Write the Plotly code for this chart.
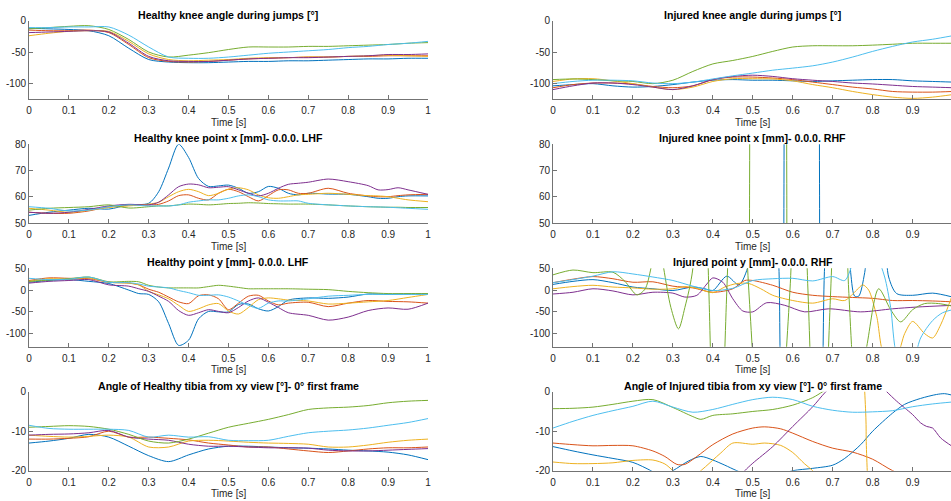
import plotly.graph_objects as go

COLORS = ['#0072BD', '#D95319', '#EDB120', '#7E2F8E', '#77AC30', '#4DBEEE']
FONT = 'Liberation Sans, Arial, Helvetica, sans-serif'

# ---------------- time grids ----------------
t20 = [0, 0.05, 0.1, 0.15, 0.2, 0.25, 0.3, 0.35, 0.4, 0.45, 0.5, 0.55, 0.6, 0.65, 0.7,
       0.75, 0.8, 0.85, 0.9, 0.95, 1.0]

# ---------------- 1: Healthy knee angle ----------------
hk_ang_blue = [-12, -13, -14, -16, -24, -44, -62, -66, -67, -67, -66, -65, -65, -64, -64, -63, -62, -61, -61, -60, -60]
hk_ang_orange = [-15, -16, -16, -15, -19, -38, -59, -65, -66, -65, -63, -61, -60, -59, -58, -58, -57, -57, -56, -56, -56]
hk_ang_yellow = [-24, -20, -17, -16, -17, -33, -53, -62, -64, -63, -62, -60, -59, -59, -58, -58, -57, -56, -55, -56, -57]
hk_ang_purple = [-19, -18, -17, -16, -18, -36, -57, -64, -65, -65, -63, -61, -60, -59, -59, -58, -57, -56, -54, -54, -53]
hk_ang_green = [-13, -11, -9, -8, -14, -30, -50, -58, -55, -51, -46, -42, -42, -42, -41, -41, -40, -39, -38, -36, -35]
hk_ang_lblue = [-11, -11, -10, -10, -10, -23, -42, -58, -60, -60, -58, -55, -52, -50, -48, -46, -43, -41, -38, -36, -33]

# ---------------- 2: Injured knee angle ----------------
ik_ang_blue = [-104, -102, -100.5, -104, -106, -105, -102, -98, -95, -94, -95, -95, -96, -97, -96, -95, -94, -94, -96, -97, -98]
ik_ang_orange = [-107, -102, -99.5, -99.5, -101, -105, -107, -104, -94, -90, -90, -91.5, -94, -98, -102, -106, -109, -113, -114, -114, -113]
ik_ang_yellow = [-97, -93, -92.6, -96, -100.5, -106, -110, -106, -97, -92.6, -92.6, -93, -96, -102, -107, -113, -118, -122, -124, -122, -118]
ik_ang_purple = [-110, -104, -99.5, -99.5, -102, -106, -110, -104, -94, -89, -87, -89, -92.6, -95, -97, -99.5, -101, -103, -105, -106, -107]
ik_ang_green = [-94, -93, -94, -96, -97, -100.5, -95, -81, -69, -63.5, -57, -49, -42, -40, -40, -40, -39, -37.6, -36, -36, -36]
ik_ang_lblue = [-100.5, -97, -95, -95, -96, -99.5, -100.5, -98, -93, -88, -83.6, -79, -75.7, -72, -66, -58, -49, -41, -34, -29.6, -24]

# ---------------- 3: Healthy knee point x ----------------
t_hkx = [0, 0.05, 0.1, 0.15, 0.2, 0.25, 0.3, 0.325, 0.35, 0.375, 0.4, 0.425, 0.45, 0.475, 0.5,
         0.525, 0.55, 0.575, 0.6, 0.625, 0.65, 0.675, 0.7, 0.75, 0.8, 0.85, 0.875, 0.9, 0.925, 0.95, 1.0]
hkx_blue = [53, 54.2, 55, 55.7, 55.4, 57, 57.6, 62, 71, 80, 75, 67, 64, 64.2, 64.5,
            63.3, 61.4, 62, 64, 63.3, 61.4, 60.8, 61.4, 61.1, 61, 60.1, 59.5, 59.5, 60.1, 60.4, 60.4]
hkx_orange = [54.2, 53.8, 53.8, 54.7, 56.3, 57, 57, 57.2, 58.5, 60.5, 60.8, 59.5, 58.9, 61.4, 62.9,
              62, 60.1, 58.5, 60.5, 62.7, 62.7, 61.4, 61.4, 63.3, 61.4, 60.4, 60.1, 60.1, 60.5, 60.8, 61]
hkx_yellow = [55.7, 55, 54.2, 55, 56, 56.6, 57.3, 58, 60.1, 62, 62.9, 62, 60.5, 61.4, 63,
              63.5, 62.7, 60.8, 59.7, 59.5, 60.1, 60.8, 61, 61.4, 61, 60.5, 60.4, 60.1, 59.5, 58.9, 58.2]
hkx_purple = [54.2, 53.8, 54.2, 55.3, 56.6, 57.2, 57, 58, 60.8, 63.9, 64.9, 64.6, 63.5, 63.7, 63.9,
              62.7, 61.4, 60.4, 61.4, 63.3, 64.8, 65.2, 65.6, 66.8, 65.8, 64.3, 62.7, 62.8, 63.5, 62.7, 61]
hkx_green = [55, 55.7, 56, 56.3, 57, 55.8, 56.3, 56.6, 56.6, 57, 57.3, 57.2, 57, 57.2, 57.5,
             57.6, 57.8, 57.7, 57.5, 57.4, 57.3, 57.3, 57.3, 57, 56.6, 56.3, 56.2, 56.1, 56.1, 56, 56]
hkx_lblue = [56.3, 55.7, 54.7, 55, 56.3, 57, 56.6, 56.6, 56.6, 57, 58, 58.5, 58.9, 58.9, 59.5,
             60.4, 60.8, 60.1, 58.9, 58.5, 58.5, 58.5, 57.6, 57, 56.6, 56.3, 56.2, 56.1, 55.9, 55.7, 55.3]

# ---------------- 4: Injured knee point x ----------------
ikx_blue_t = [0, 0.3, 0.5, 0.57, 0.578, 0.585, 0.62, 0.66, 0.667, 0.675, 0.8, 1.0]
ikx_blue = [20, 20, 20, -300, 65, 400, 500, 400, 65, -300, 20, 20]
ikx_orange_t = [0, 0.5, 1.0]
ikx_orange = [20, 20, 20]
ikx_yellow_t = [0, 0.5, 1.0]
ikx_yellow = [25, 25, 25]
ikx_purple_t = [0, 0.5, 1.0]
ikx_purple = [15, 15, 15]
ikx_green_t = [0, 0.2, 0.4, 0.485, 0.492, 0.5, 0.54, 0.578, 0.585, 0.592, 0.7, 0.85, 1.0]
ikx_green = [30, 30, 25, -300, 65, 400, 500, 400, 65, -300, 20, 25, 30]
ikx_lblue_t = [0, 0.5, 1.0]
ikx_lblue = [10, 10, 10]

# ---------------- 5: Healthy point y ----------------
t_hpy = [0, 0.05, 0.1, 0.15, 0.2, 0.25, 0.275, 0.3, 0.325, 0.35, 0.375, 0.4, 0.425, 0.45, 0.475,
         0.5, 0.525, 0.55, 0.575, 0.6, 0.625, 0.65, 0.7, 0.75, 0.8, 0.85, 0.9, 0.95, 1.0]
hpy_blue = [18, 22, 24, 20, 15, 0, -8, -10, -27, -77, -127, -115, -66, -49, -50,
            -50, -33, -32, -43, -48, -38, -23, -18, -19, -16, -9, -10, -9, -9]
hpy_orange = [22, 28, 27, 26, 18, 16, 12, 2, -5, -16, -27, -31, -13, -11, -20,
              -45, -30, -14, -12, -25, -34, -30, -28, -38, -30, -24, -26, -27, -30]
hpy_yellow = [20, 26, 25, 28, 18, 16, 12, -3, -11, -20, -35, -49, -43, -34, -31,
              -48, -55, -40, -22, -18, -20, -23, -25, -32, -30, -27, -24, -17, -10]
hpy_purple = [16, 20, 22, 24, 12, 9, 3, -3, -14, -26, -47, -58, -52, -45, -49,
              -52, -40, -25, -18, -28, -40, -52, -58, -69, -62, -47, -41, -44, -30]
hpy_green = [20, 23, 26, 30, 19, 20, 19, 11, 7, 5, 5, 5, 5, 8, 11,
             9, 6, 3, 3, 3, 3, 3, 2, 1, -3, -6, -8, -8, -8]
hpy_lblue = [27, 24, 25, 30, 18, 17, 14, 9, 7, 5, -1, -6, -12, -12, -11,
             -16, -25, -35, -42, -30, -25, -25, -20, -14, -12, -10, -10, -10, -10]

# ---------------- 6: Injured point y ----------------
ipy_blue_t = [0, 0.05, 0.1, 0.15, 0.2, 0.25, 0.3, 0.35, 0.38, 0.4, 0.435, 0.465, 0.49, 0.52, 0.55, 0.565,
              0.575, 0.6, 0.65, 0.67, 0.68, 0.7, 0.73, 0.745, 0.755, 0.765, 0.78, 0.8, 0.82, 0.84, 0.86,
              0.9, 0.95, 1.0]
ipy_blue = [13, 20, 24, 17, 7, 3, -1, 7, 3, -1, 32, 12, 60, 300, 300, 60,
            -300, -400, -400, -300, 60, 300, 300, 40, -14, -14, 40, 200, 200, 30, -8,
            -12, -7, -16]
ipy_orange_t = [0, 0.05, 0.1, 0.15, 0.2, 0.25, 0.3, 0.35, 0.4, 0.45, 0.48, 0.5, 0.55, 0.6, 0.65,
                0.7, 0.75, 0.8, 0.85, 0.9, 0.95, 1.0]
ipy_orange = [17, 25, 31, 26, 18, 19, 9, 5, -5, 3, 22, 22, 11, -5, -12,
              -15, -17, -19, -24, -24, -25, -27]
ipy_yellow_t = [0, 0.05, 0.1, 0.15, 0.2, 0.25, 0.3, 0.33, 0.36, 0.4, 0.43, 0.46, 0.49, 0.52, 0.55,
                0.6, 0.65, 0.7, 0.73, 0.76, 0.775, 0.79, 0.81, 0.83, 0.86, 0.88, 0.9, 0.93, 0.95,
                0.97, 1.0]
ipy_yellow = [3, 8, 11, 7, 5, 2, 3, 8, 4, -6, 7, 15, 15, 3, -12,
              -24, -30, -20, -24, 0, 12, 0, -60, -150, -150, -100, -72, -100, -110,
              -80, -10]
ipy_purple_t = [0, 0.05, 0.1, 0.15, 0.2, 0.25, 0.3, 0.33, 0.36, 0.385, 0.4, 0.425, 0.45, 0.475, 0.5,
                0.535, 0.58, 0.63, 0.69, 0.77, 0.85, 0.91, 1.0]
ipy_purple = [-9, -5, 3, -2, -11, -5, -7, -16, -12, 14, 28, 18, -20, -48, -50,
              -29, -35, -50, -43, -50, -43, -39, -35]
ipy_green_t = [0, 0.05, 0.1, 0.15, 0.18, 0.21, 0.23, 0.245, 0.26, 0.277, 0.295, 0.314, 0.33, 0.35,
               0.37, 0.39, 0.41, 0.435, 0.46, 0.49, 0.54, 0.593, 0.615, 0.638, 0.665, 0.695, 0.72,
               0.74, 0.76, 0.785, 0.815, 0.845, 0.87, 0.9, 0.93, 0.965, 1.0]
ipy_green = [35, 46, 40, 41, 20, -11, 2, 50, 150, 50, -40, -89, -40, 50,
             600, 0, -600, 0, 600, 0, -600, 0, 600, 0, -600, 0, 600,
             0, -250, -130, 3, -45, -73, -45, -31, -31, -37]
ipy_lblue_t = [0, 0.05, 0.1, 0.15, 0.2, 0.25, 0.3, 0.35, 0.4, 0.45, 0.5, 0.55, 0.6, 0.65, 0.7,
               0.73, 0.75, 0.78, 0.81, 0.83, 0.845, 0.86, 0.89, 0.92, 0.95, 0.975, 1.0]
ipy_lblue = [17, 24, 32, 42, 37, 30, 22, 9, -1, 4, 22, 26, 27, 21, 31,
             22, 60, 120, 80, 30, -40, -150, -200, -110, -70, -52, -45]

# ---------------- 7: Healthy tibia angle ----------------
ht_blue = [-13, -12.5, -11.8, -10.8, -11.5, -13.8, -16.2, -17.7, -16, -14.5, -13.8, -13.8, -14, -14.2, -14.3, -14.5, -14.8, -15, -15.3, -16, -17.2]
ht_orange = [-12, -12, -11.8, -11.4, -10, -11.5, -11.5, -11.8, -12.2, -13, -13.5, -14, -14, -14.5, -15, -15.4, -15, -14.5, -14.2, -14.2, -14]
ht_yellow = [-11, -11.3, -11.5, -11.3, -11, -11.5, -14, -14, -12.5, -12.3, -12.5, -12.8, -13, -13.1, -13.3, -14, -14, -13.5, -12.8, -12.3, -12]
ht_purple = [-11, -10.8, -10.7, -10.4, -9.8, -11.5, -12, -12.3, -13.3, -13.8, -13.8, -14, -14.2, -14.2, -14.3, -14.8, -15, -15, -14.8, -14.6, -14.4]
ht_green = [-9, -8.8, -8.6, -8.8, -9.5, -10.8, -12.5, -13, -12, -10.5, -9, -8, -7, -5.8, -4.5, -4.1, -3.9, -3.5, -2.8, -2.4, -2.2]
ht_lblue = [-8.5, -9.3, -9.5, -9.5, -9.5, -9.8, -11.5, -11, -11.5, -11.4, -12.3, -12.4, -12.3, -11.3, -10.4, -10, -9.7, -9.2, -8.5, -7.8, -6.8]

# ---------------- 8: Injured tibia angle ----------------
it_blue_t = [0, 0.05, 0.1, 0.15, 0.2, 0.245, 0.27, 0.3, 0.34, 0.37, 0.4, 0.43, 0.46, 0.5, 0.55, 0.6,
             0.65, 0.7, 0.73, 0.77, 0.8, 0.85, 0.88, 0.92, 0.96, 0.98, 1.0]
it_blue = [-13.9, -15, -16, -16.9, -17.9, -20, -21.5, -20, -17.5, -16.4, -17.3, -18.6, -20, -21.5, -21.5, -20,
           -19.4, -18.6, -16.9, -13.4, -10, -5.4, -3.2, -1.7, -0.7, -0.5, -0.9]
it_orange_t = [0, 0.05, 0.1, 0.15, 0.2, 0.25, 0.28, 0.31, 0.33, 0.36, 0.4, 0.45, 0.5, 0.53, 0.57, 0.6,
               0.65, 0.7, 0.75, 0.8, 0.85, 0.9, 0.95, 1.0]
it_orange = [-13, -13.4, -13.7, -13.6, -13.7, -15, -16.4, -18.4, -18.4, -16.4, -13.4, -10.7, -9.2, -8.9, -9.4, -10.5,
             -12.6, -14.3, -15.3, -17.1, -20, -22, -24, -26]
it_yellow_t = [0, 0.05, 0.1, 0.15, 0.2, 0.25, 0.28, 0.3, 0.33, 0.37, 0.42, 0.45, 0.5, 0.53, 0.57, 0.6,
               0.63, 0.65, 0.7, 0.782, 0.7836, 0.785, 0.85, 1.0]
it_yellow = [-17.8, -18.2, -18.2, -18, -17.4, -17.3, -18.3, -20, -23, -20, -15.5, -13, -13.3, -13, -13.6, -15.4,
             -18.3, -20, -26, -40, -10, 20, 14, 14]
it_purple_t = [0, 0.2, 0.4, 0.46, 0.48, 0.5, 0.55, 0.6, 0.65, 0.68, 0.7, 0.76, 0.82, 0.835, 0.86, 0.88,
               0.9, 0.92, 0.935, 0.95, 0.97, 1.0]
it_purple = [-30, -30, -27, -22.5, -20, -18.1, -13.9, -8.8, -3.8, -0.3, 1.5, 4, 1.5, 0, -2.4, -4.1,
             -5.8, -7.9, -8.8, -9.2, -11.7, -13.9]
it_green_t = [0, 0.05, 0.1, 0.15, 0.2, 0.25, 0.3, 0.35, 0.37, 0.4, 0.45, 0.5, 0.55, 0.6, 0.65, 0.675,
              0.7, 0.8, 0.9, 1.0]
it_green = [-4.3, -4.2, -3.9, -3.2, -2.4, -2.0, -4.0, -6.3, -7.0, -6.0, -5.6, -5.0, -4.5, -3.4, -1.5, 0,
            1.5, 4, 6, 8]
it_lblue = [-9.2, -7.5, -6.0, -4.8, -3.7, -2.4, -3.9, -5.2, -4.5, -3.2, -2.0, -1.4, -2.0, -3.7, -4.7,
            -5.2, -5.1, -4.8, -3.8, -3.1, -2.6]

# ---------------- tick labels ----------------
x_ticks_left = [0, 0.1, 0.2, 0.3, 0.4, 0.5, 0.6, 0.7, 0.8, 0.9, 1]
x_ticks_right = [0, 0.1, 0.2, 0.3, 0.4, 0.5, 0.6, 0.7, 0.8, 0.9, 1]
y_ticks_angle = [-100, -50, 0]
y_ticks_x = [50, 60, 70, 80]
y_ticks_y = [-100, -50, 0, 50]
y_ticks_tibia = [-20, -10, 0]

panels = [
    dict(title='Healthy knee angle during jumps [°]', col=0, row=0, yr=[-125, 0], yt=y_ticks_angle,
         series=[(t20, hk_ang_blue), (t20, hk_ang_orange), (t20, hk_ang_yellow), (t20, hk_ang_purple),
                 (t20, hk_ang_green), (t20, hk_ang_lblue)]),
    dict(title='Injured knee angle during jumps [°]', col=1, row=0, yr=[-125, 0], yt=y_ticks_angle,
         series=[(t20, ik_ang_blue), (t20, ik_ang_orange), (t20, ik_ang_yellow), (t20, ik_ang_purple),
                 (t20, ik_ang_green), (t20, ik_ang_lblue)]),
    dict(title='Healthy knee point x [mm]- 0.0.0. LHF', col=0, row=1, yr=[50, 80], yt=y_ticks_x,
         series=[(t_hkx, hkx_blue), (t_hkx, hkx_orange), (t_hkx, hkx_yellow), (t_hkx, hkx_purple),
                 (t_hkx, hkx_green), (t_hkx, hkx_lblue)]),
    dict(title='Injured knee point x [mm]- 0.0.0. RHF', col=1, row=1, yr=[50, 80], yt=y_ticks_x,
         series=[(ikx_blue_t, ikx_blue), (ikx_orange_t, ikx_orange), (ikx_yellow_t, ikx_yellow),
                 (ikx_purple_t, ikx_purple), (ikx_green_t, ikx_green), (ikx_lblue_t, ikx_lblue)]),
    dict(title='Healthy point y [mm]- 0.0.0. LHF', col=0, row=2, yr=[-130, 50], yt=y_ticks_y,
         series=[(t_hpy, hpy_blue), (t_hpy, hpy_orange), (t_hpy, hpy_yellow), (t_hpy, hpy_purple),
                 (t_hpy, hpy_green), (t_hpy, hpy_lblue)]),
    dict(title='Injured point y [mm]- 0.0.0. RHF', col=1, row=2, yr=[-130, 50], yt=y_ticks_y,
         series=[(ipy_blue_t, ipy_blue), (ipy_orange_t, ipy_orange), (ipy_yellow_t, ipy_yellow),
                 (ipy_purple_t, ipy_purple), (ipy_green_t, ipy_green), (ipy_lblue_t, ipy_lblue)]),
    dict(title='Angle of Healthy tibia from xy view [°]- 0° first frame', col=0, row=3, yr=[-20, 0],
         yt=y_ticks_tibia,
         series=[(t20, ht_blue), (t20, ht_orange), (t20, ht_yellow), (t20, ht_purple),
                 (t20, ht_green), (t20, ht_lblue)]),
    dict(title='Angle of Injured tibia from xy view [°]- 0° first frame', col=1, row=3, yr=[-20, 0],
         yt=y_ticks_tibia,
         series=[(it_blue_t, it_blue), (it_orange_t, it_orange), (it_yellow_t, it_yellow),
                 (it_purple_t, it_purple), (it_green_t, it_green), (t20, it_lblue)]),
]

# The page body margin is removed by a small post-script, so figure pixels == window pixels.
W, H = 951, 501
X_PX = [(29, 428), (553, 951)]
X_DOM = [[a / W, b / W] for (a, b) in X_PX]
X_RANGES = [[0, 1], [0, 398 / 399.6]]
ROW_PX = [(20.7, 99.0), (144.3, 223.3), (268.3, 346.7), (391.7, 470.7)]
Y_DOM = [[1 - b / H, 1 - t / H] for (t, b) in ROW_PX]

AX_COLOR = '#737373'
TXT_COLOR = '#262626'

fig = go.Figure()
layout = dict(
    width=W, height=H, margin=dict(l=0, r=0, t=0, b=0, autoexpand=False),
    paper_bgcolor='white', plot_bgcolor='white', showlegend=False,
    font=dict(family=FONT, size=10, color=TXT_COLOR),
    annotations=[],
)


def fmt(v):
    return ('%g' % v)


for i, p in enumerate(panels):
    n = i + 1
    xs = '' if n == 1 else str(n)
    for k, (tt, vv) in enumerate(p['series']):
        fig.add_trace(go.Scatter(
            x=tt, y=vv, mode='lines', xaxis='x' + xs, yaxis='y' + xs,
            line=dict(color=COLORS[k], width=1, shape='spline', smoothing=0.8),
            hoverinfo='skip'))
    xt = x_ticks_left if p['col'] == 0 else x_ticks_right
    layout['xaxis' + xs] = dict(
        domain=X_DOM[p['col']], range=X_RANGES[p['col']], anchor='y' + xs, automargin=False,
        tickmode='array', tickvals=xt, ticktext=[fmt(v) for v in xt],
        showline=True, linecolor=AX_COLOR, linewidth=1, ticks='inside', ticklen=4,
        tickcolor=AX_COLOR, tickwidth=1, showgrid=False, zeroline=False, ticklabelstandoff=2,
        tickfont=dict(family=FONT, size=10, color=TXT_COLOR), fixedrange=True)
    layout['yaxis' + xs] = dict(
        domain=Y_DOM[p['row']], range=p['yr'], anchor='x' + xs, automargin=False,
        tickmode='array', tickvals=p['yt'], ticktext=[fmt(v) for v in p['yt']],
        showline=True, linecolor=AX_COLOR, linewidth=1, ticks='inside', ticklen=4,
        tickcolor=AX_COLOR, tickwidth=1, showgrid=False, zeroline=False,
        tickfont=dict(family=FONT, size=10, color=TXT_COLOR), fixedrange=True)
    xd = X_DOM[p['col']]
    cx = (xd[0] + xd[1]) / 2 if p['col'] == 0 else (553 + 952.6) / 2 / W
    yd = Y_DOM[p['row']]
    layout['annotations'].append(dict(
        text='<b>' + p['title'] + '</b>', x=cx, y=yd[1], xref='paper', yref='paper',
        xanchor='center', yanchor='middle', yshift=6, showarrow=False,
        font=dict(family=FONT, size=10.6, color='#000000')))
    layout['annotations'].append(dict(
        text='Time [s]', x=cx, y=yd[0], xref='paper', yref='paper',
        xanchor='center', yanchor='middle', yshift=-23, showarrow=False,
        font=dict(family=FONT, size=10, color=TXT_COLOR)))

fig.update_layout(**layout)
fig.write_html('out.html', config={'displayModeBar': False, 'staticPlot': True},
               post_script="document.body.style.margin='0';document.body.style.overflow='hidden';")
